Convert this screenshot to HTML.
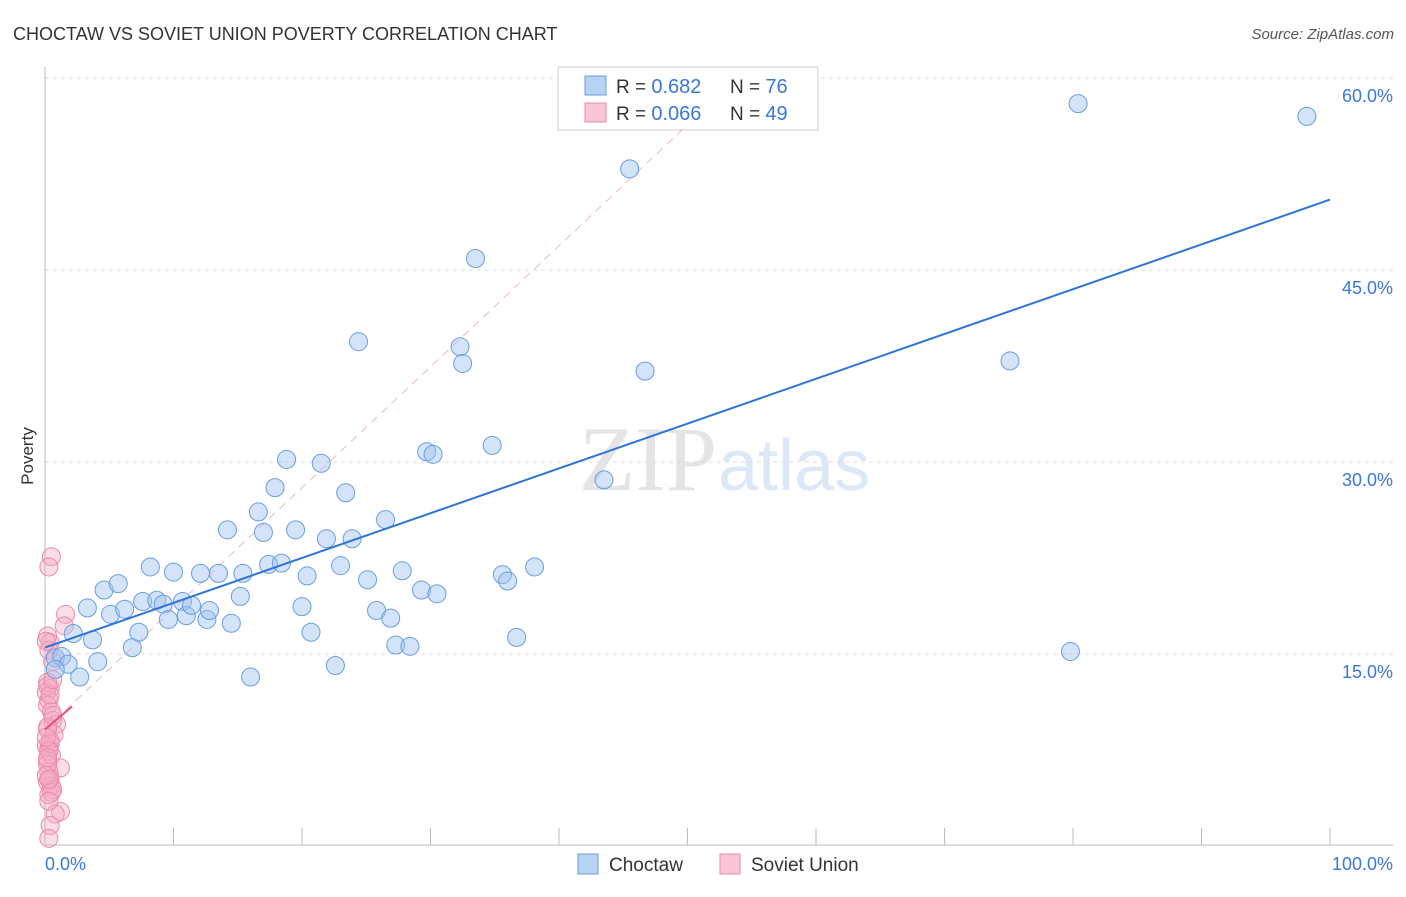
<!DOCTYPE html>
<html><head><meta charset="utf-8"><style>
body{margin:0;background:#fff;font-family:"Liberation Sans",sans-serif}
</style></head><body>
<svg id="c" width="1406" height="892" xmlns="http://www.w3.org/2000/svg" style="font-family:'Liberation Sans',sans-serif">
<text x="13" y="40" font-size="18" fill="#333">CHOCTAW VS SOVIET UNION POVERTY CORRELATION CHART</text>
<text x="1394" y="39" font-size="15" fill="#555" font-style="italic" text-anchor="end">Source: ZipAtlas.com</text>
<text transform="translate(33,456) rotate(-90)" font-size="17" fill="#333" text-anchor="middle">Poverty</text>
<text x="717" y="490" font-size="92" fill="#e4e4e4" text-anchor="end" font-family="Liberation Serif">ZIP</text>
<text x="718" y="490" font-size="72" fill="#dce8f7">atlas</text>
<g id="grid"></g><g id="marks"></g>
<g>
<rect x="558" y="67" width="260" height="63" fill="#fff" stroke="#ccc"/>
<rect x="585" y="76" width="21" height="19" fill="#b8d2f4" stroke="#6a9de0"/>
<rect x="585" y="103" width="21" height="19" fill="#f9c6d6" stroke="#e888a8"/>
<text x="616" y="93" font-size="19" fill="#333">R = <tspan fill="#3a78d8" font-size="20">0.682</tspan></text>
<text x="730" y="93" font-size="19" fill="#333">N = <tspan fill="#3a78d8" font-size="20">76</tspan></text>
<text x="616" y="120" font-size="19" fill="#333">R = <tspan fill="#3a78d8" font-size="20">0.066</tspan></text>
<text x="730" y="120" font-size="19" fill="#333">N = <tspan fill="#3a78d8" font-size="20">49</tspan></text>
</g>
<g>
<rect x="578" y="854" width="20" height="20" fill="#b8d2f4" stroke="#6a9de0"/>
<text x="609" y="871" font-size="19" fill="#333">Choctaw</text>
<rect x="720" y="854" width="20" height="20" fill="#f9c6d6" stroke="#e888a8"/>
<text x="751" y="871" font-size="19" fill="#333">Soviet Union</text>
</g>
</svg>
<script>
const yTicks=[15,30,45,60];
const yTickLabels=["15.0%","30.0%","45.0%","60.0%"];
const xTicks=[0,10,20,30,40,50,60,70,80,90,100];
const choctawX=[0.8,1.3,1.8,2.7,2.2,3.3,3.7,4.1,4.6,5.1,5.7,6.2,6.8,7.3,7.6,8.2,8.7,9.2,9.6,10.0,10.7,11.0,11.4,12.1,12.6,12.8,13.5,14.5,14.2,15.2,15.4,16.0,16.6,17.0,17.4,17.9,18.4,18.8,19.5,20.0,20.4,20.7,21.5,21.9,22.6,23.0,23.4,23.9,24.4,25.1,25.8,26.5,26.9,27.3,27.8,28.4,29.3,29.7,30.2,30.5,32.3,32.5,33.5,34.8,35.6,36.0,36.7,38.1,43.5,45.5,46.7,75.1,79.8,80.4,98.2,0.8];
const choctawY=[14.7,14.8,14.2,13.2,16.6,18.6,16.1,14.4,20.0,18.1,20.5,18.5,15.5,16.7,19.1,21.8,19.2,18.9,17.7,21.4,19.1,18.0,18.8,21.3,17.7,18.4,21.3,17.4,24.7,19.5,21.3,13.2,26.1,24.5,22.0,28.0,22.1,30.2,24.7,18.7,21.1,16.7,29.9,24.0,14.1,21.9,27.6,24.0,39.4,20.8,18.4,25.5,17.8,15.7,21.5,15.6,20.0,30.8,30.6,19.7,39.0,37.7,45.9,31.3,21.2,20.7,16.3,21.8,28.6,52.9,37.1,37.9,15.2,58.0,57.0,13.8];
const sovietX=[0.5,0.3,1.6,1.5,0.2,0.4,0.3,0.6,0.2,0.4,0.1,0.3,0.2,0.5,0.6,0.9,0.2,0.7,0.4,0.1,0.3,0.5,0.2,1.2,0.3,0.4,0.2,0.5,0.6,0.3,1.2,0.8,0.4,0.3,0.1,0.2,0.6,0.4,0.3,0.2,0.1,0.5,0.3,0.2,0.4,0.6,0.1,0.2,0.3];
const sovietY=[22.6,21.8,18.1,17.2,16.4,15.9,15.3,14.4,12.8,12.3,12.0,11.4,11.0,10.5,9.8,9.5,9.1,8.7,8.2,7.8,7.6,7.1,6.7,6.1,5.8,5.3,5.0,4.7,4.4,4.0,2.7,2.5,1.6,0.6,16.0,12.5,10.2,8.0,7.4,6.4,5.5,4.2,3.5,9.3,11.8,13.0,8.5,6.9,5.2];
const blueTrend=[[0,15.5],[100,50.5]];
const pinkTrend=[[0,9.1],[2.1,10.9]];
const pinkDash=[[0,9.1],[52.5,58.7]];
const X=v=>45+v*12.85, Y=v=>846-v*12.8;
const NS="http://www.w3.org/2000/svg";
const grid=document.getElementById('grid'), marks=document.getElementById('marks');
function mk(tag,attrs,parent){const e=document.createElementNS(NS,tag);for(const k in attrs)e.setAttribute(k,attrs[k]);parent.appendChild(e);return e;}
yTicks.forEach((t,i)=>{
 const l=mk('line',{x1:45,x2:1393,y1:Y(t),y2:Y(t),stroke:'#ddd','stroke-dasharray':'4,4'},grid);
 
 
 const tx=mk('text',{x:1393,y:Y(t)+24,'font-size':18,fill:'#3a78d8','text-anchor':'end'},grid);tx.textContent=yTickLabels[i];
 
 
});
mk('line',{x1:45,x2:45,y1:67,y2:845,stroke:'#bbb'},grid);
mk('line',{x1:45,x2:1393,y1:845,y2:845,stroke:'#bbb'},grid);
xTicks.forEach(t=>{const l=mk('line',{x1:X(t),x2:X(t),y1:828,y2:845,stroke:'#bbb'},grid);
 
 });
let a=mk('text',{x:45,y:870,'font-size':18,fill:'#3a78d8'},grid);a.textContent='0.0%';


a=mk('text',{x:1393,y:870,'font-size':18,fill:'#3a78d8','text-anchor':'end'},grid);a.textContent='100.0%';


let d=mk('line',{x1:X(pinkDash[0][0]),y1:Y(pinkDash[0][1]),x2:X(pinkDash[1][0]),y2:Y(pinkDash[1][1]),stroke:'#eeb5c6','stroke-dasharray':'8,6','stroke-width':1},marks);


sovietX.forEach((x,i)=>{const c=mk('circle',{cx:X(x),cy:Y(sovietY[i]),r:9,fill:'rgba(245,170,195,0.4)',stroke:'#e98aab','stroke-width':1},marks);
 
 });
choctawX.forEach((x,i)=>{const c=mk('circle',{cx:X(x),cy:Y(choctawY[i]),r:9,fill:'rgba(160,196,240,0.45)',stroke:'#6a9de0','stroke-width':1},marks);
 
 });
d=mk('line',{x1:X(blueTrend[0][0]),y1:Y(blueTrend[0][1]),x2:X(blueTrend[1][0]),y2:Y(blueTrend[1][1]),stroke:'#2f74d6','stroke-width':2},marks);


d=mk('line',{x1:X(pinkTrend[0][0]),y1:Y(pinkTrend[0][1]),x2:X(pinkTrend[1][0]),y2:Y(pinkTrend[1][1]),stroke:'#e0507a','stroke-width':2},marks);


</script>
</body></html>
